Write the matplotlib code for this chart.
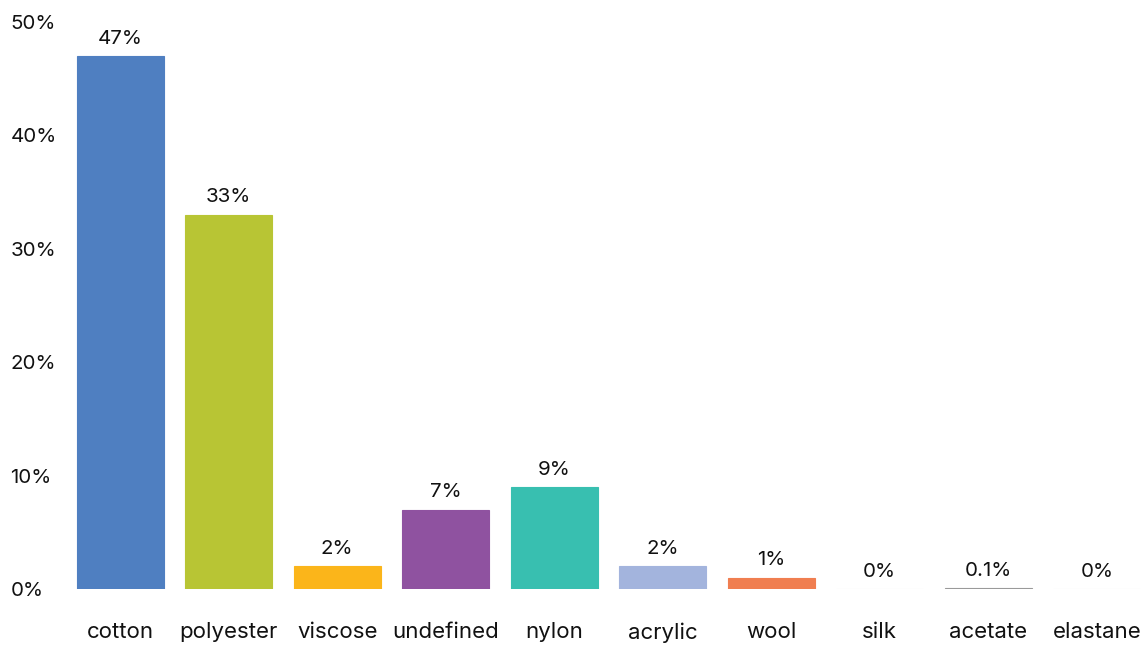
import matplotlib.pyplot as plt

plt.rcParams['font.family'] = ['Inter', 'DejaVu Sans']

materials = ['cotton', 'polyester', 'viscose', 'undefined', 'nylon',
             'acrylic', 'wool', 'silk', 'acetate', 'elastane']
shares = [47, 33, 2, 7, 9, 2, 1, 0, 0.1, 0]
labels = ['47%', '33%', '2%', '7%', '9%', '2%', '1%', '0%', '0.1%', '0%']
colors = ['#4F7FC1', '#B8C534', '#FBB51A', '#8F52A0', '#38BFB0',
          '#A3B4DD', '#F07E50', '#E6E6E6', '#9A9A9A', '#E6E6E6']

fig = plt.figure(figsize=(11.46, 6.46), dpi=100)
ax = fig.add_axes([66 / 1146, (646 - 589) / 646, 1085 / 1146, 567 / 646])

x = range(len(materials))
ax.bar(x, shares, width=0.8, color=colors, edgecolor=colors, linewidth=0.8)
for i, v in enumerate(shares):
    ax.annotate(labels[i], (i, v), xytext=(0, 6), textcoords='offset points',
                ha='center', va='bottom', fontsize=14.8, color='#111111')

ax.set_xlim(-0.5, 9.5)
ax.set_ylim(0, 50)
ax.set_yticks([0, 10, 20, 30, 40, 50])
ax.set_yticklabels(['0%', '10%', '20%', '30%', '40%', '50%'])
ax.set_xticks(list(x))
ax.set_xticklabels(materials)
ax.tick_params(axis='x', length=0, pad=24, labelsize=16, labelcolor='#111111')
ax.tick_params(axis='y', length=0, pad=40, labelsize=14.8, labelcolor='#111111')
for t in ax.get_yticklabels():
    t.set_horizontalalignment('left')
for s in ax.spines.values():
    s.set_visible(False)

fig.savefig('out.png', dpi=100)
